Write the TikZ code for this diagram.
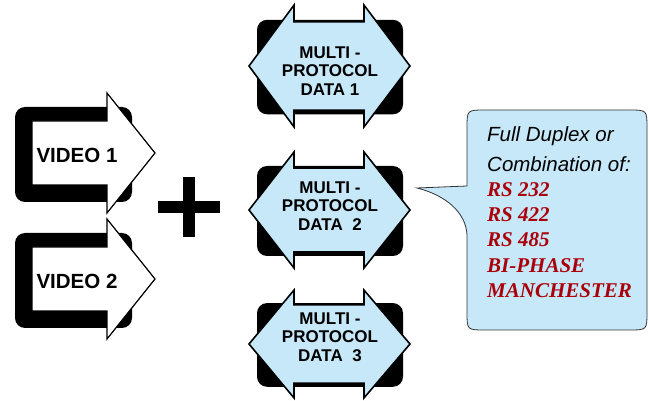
\documentclass[tikz,border=0pt]{standalone}
\usepackage{fontspec}
\setmainfont{Liberation Sans}
\newfontfamily\listserif{Liberation Serif}

\definecolor{panelblue}{RGB}{198,232,248}
\definecolor{listred}{RGB}{170,0,10}

\tikzset{
  shadowbox/.style={fill=black, rounded corners=10pt},
  videoarrow/.style={fill=white, draw=black, line width=1.2pt, line join=miter},
  dataarrow/.style={fill=panelblue, draw=black, line width=1.6pt, line join=miter},
  notebox/.style={fill=panelblue, draw=black!80, line width=0.8pt},
  videotxt/.style={font=\fontsize{20.5}{24}\selectfont\bfseries, inner sep=0pt},
  datatxt/.style={font=\fontsize{17}{18.5}\selectfont\bfseries, align=center, inner sep=0pt},
  notetxt/.style={font=\fontsize{20.5}{25}\selectfont\itshape, anchor=base west, inner sep=0pt},
  listtxt/.style={font=\fontsize{21}{25}\selectfont\listserif\bfseries\itshape, text=listred, anchor=base west, inner sep=0pt},
  pics/videoshape/.style={code={
    \fill[shadowbox] (-61,-46) rectangle (56,49);
    \draw[videoarrow] (-44,-32) -- (31,-32) -- (31,-60) -- (79,0) -- (31,60) -- (31,32) -- (-44,32) -- cycle;
  }},
  pics/datashape/.style={code={
    \fill[shadowbox] (-72,-44) rectangle (74,46);
    \draw[dataarrow] (-80,0) -- (-35,-58) -- (-35,-42) -- (35,-42) -- (35,-58) -- (81,0)
      -- (35,58) -- (35,42) -- (-35,42) -- (-35,58) -- cycle;
  }}
}

\begin{document}
\begin{tikzpicture}[x=1pt, y=-1pt]
  \useasboundingbox (0,0) rectangle (649,401);

  % video inputs
  \pic at (76,153) {videoshape};
  \pic at (76,279) {videoshape};
  \node[videotxt] (video1) at (77,155) {VIDEO 1};
  \node[videotxt] (video2) at (77,281) {VIDEO 2};

  % plus sign
  \fill (158,201) rectangle (220,213);
  \fill (183,177) rectangle (195,237);

  % data channels
  \pic[yscale=1.05] at (329,66) {datashape};
  \pic at (329,210) {datashape};
  \pic[yscale=0.93] at (329,344) {datashape};
  \node[datatxt] (data1) at (330,71) {MULTI -\\PROTOCOL\\DATA 1};
  \node[datatxt] (data2) at (330,206) {MULTI -\\PROTOCOL\\DATA~~2};
  \node[datatxt] (data3) at (330,337) {MULTI -\\PROTOCOL\\DATA~~3};

  % callout
  \draw[notebox] (467,186) -- (417,188) .. controls (445,195) and (466,212) .. (467,235)
    -- (467,312) .. controls (467,330) .. (485,330) -- (629,330)
    .. controls (647,330) .. (647,312) -- (647,128) .. controls (647,110) .. (629,110)
    -- (485,110) .. controls (467,110) .. (467,128) -- cycle;
  \node[notetxt] (duplex) at (487,142) {Full Duplex or};
  \node[notetxt] (combo) at (487,172) {Combination of:};
  \node[listtxt] (rs232) at (487,197) {RS 232};
  \node[listtxt] (rs422) at (487,222) {RS 422};
  \node[listtxt] (rs485) at (487,247) {RS 485};
  \node[listtxt] (biphase) at (487,273) {BI-PHASE};
  \node[listtxt] (manch) at (487,298) {MANCHESTER};
\end{tikzpicture}
\end{document}
